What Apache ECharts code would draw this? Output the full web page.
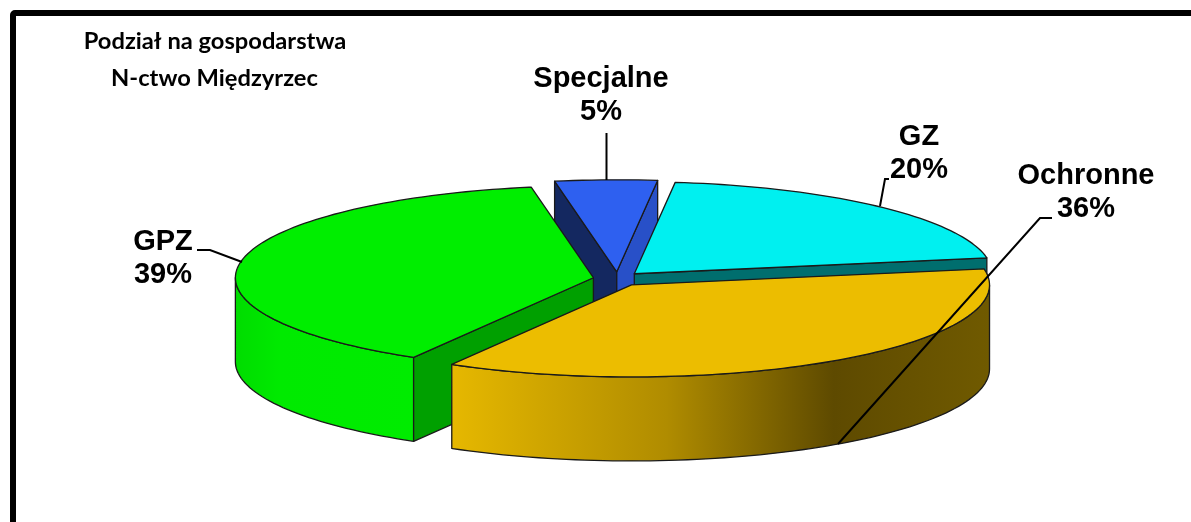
<!DOCTYPE html>
<html>
<head>
<meta charset="utf-8">
<style>html,body{margin:0;padding:0;background:#fff}#chart{width:1191px;height:522px}</style>
<script src="https://cdn.jsdelivr.net/npm/echarts@6/dist/echarts.min.js"></script>
</head>
<body>
<div id="chart"></div>
<script>
// pie order, clockwise from the first slice. shares are read off the slice
// angles, the labels show them rounded
var categories = ['Specjalne', 'GZ', 'Ochronne', 'GPZ'];
var shares = [4.6, 20.4, 36.15, 38.85];
var titleLines = ['Podział na gospodarstwa', 'N-ctwo Międzyrzec'];

// back slices first so the front ones cover them
var drawOrder = ['Specjalne', 'GPZ', 'GZ', 'Ochronne'];

var colors = {
  Specjalne: {top: '#2E60F0', left: '#142860', right: '#2850C8'},
  GZ: {top: '#00F0F0', right: '#006E6E'},
  Ochronne: {top: '#ECBD00'},
  GPZ: {top: '#00EE00', right: '#00A000'}
};

var cx = 617.5, cy = 279, rx = 358, ry = 92, depth = 84;
var explodeX = 24.5, explodeY = 7.2;
var firstAngle = 350;
var edge = '#1a1a1a';

function rad(d) { return d * Math.PI / 180; }

function rows() {
  var start = firstAngle, byName = {};
  categories.forEach(function (name, i) {
    byName[name] = [shares[i], start % 360];
    start += shares[i] * 3.6;
  });
  return drawOrder.map(function (name) {
    return {name: name, value: byName[name]};
  });
}

function wallFill(name) {
  if (name === 'Ochronne') {
    return new echarts.graphic.LinearGradient(0, 0, 1, 0, [
      {offset: 0, color: '#E6B800'},
      {offset: 0.4, color: '#B08C00'},
      {offset: 0.71, color: '#5E4A00'},
      {offset: 1, color: '#705A00'}
    ]);
  }
  return new echarts.graphic.LinearGradient(0, 0, 1, 0, [
    {offset: 0, color: '#00DC00'},
    {offset: 0.25, color: '#00EA00'},
    {offset: 1, color: '#00EC00'}
  ]);
}

function renderSlice(params, api) {
  var name = drawOrder[params.dataIndex];
  var sweep = api.value(0) * 3.6;
  var a0 = api.value(1), a1 = a0 + sweep, mid = rad(a0 + sweep / 2);
  var c = colors[name];
  var ox = cx + explodeX * Math.sin(mid);
  var oy = cy - explodeY * Math.cos(mid);

  function rim(a, dy) {
    return [ox + rx * Math.sin(rad(a)), oy - ry * Math.cos(rad(a)) + (dy || 0)];
  }
  function sample(from, to, dy) {
    var pts = [];
    for (var a = from; a < to; a += 1.5) { pts.push(rim(a, dy)); }
    pts.push(rim(to, dy));
    return pts;
  }
  function poly(points, fill) {
    return {
      type: 'polygon',
      shape: {points: points},
      style: {fill: fill, stroke: edge, lineWidth: 1.3, lineJoin: 'round'}
    };
  }
  function inner(p, fill) {
    return poly([[ox, oy], p, [p[0], p[1] + depth], [ox, oy + depth]], fill);
  }

  var children = [];
  // only the part of the outer wall that faces the viewer
  var w0 = Math.max(a0, 90), w1 = Math.min(a1, 270);
  if (w1 > w0) {
    children.push(poly(sample(w0, w1).concat(sample(w0, w1, depth).reverse()), wallFill(name)));
  }
  if (c.left) { children.push(inner(rim(a0), c.left)); }
  if (c.right) { children.push(inner(name === 'GPZ' ? rim(a0) : rim(a1), c.right)); }
  children.push(poly([[ox, oy]].concat(sample(a0, a1)), c.top));
  return {type: 'group', children: children};
}

var labelPos = {
  Specjalne: [601, 95],
  GZ: [919, 153],
  Ochronne: [1086, 192],
  GPZ: [163, 258]
};
var leaders = [
  [[606.5, 133], [606.5, 180]],
  [[880, 206], [885, 179], [889, 179]],
  [[838, 444], [1040, 218], [1052, 218]],
  [[197, 250], [210, 250], [242, 262]]
];

var graphics = [{
  type: 'rect',
  z: 50,
  shape: {x: 13, y: 13, width: 1300, height: 700, r: 2},
  style: {fill: 'none', stroke: '#000', lineWidth: 6}
}];
titleLines.forEach(function (line, i) {
  graphics.push({
    type: 'text',
    z: 60,
    x: i === 0 ? 215 : 214.5,
    y: i === 0 ? 41 : 78,
    style: {
      text: line, fill: '#000', align: 'center', verticalAlign: 'middle',
      font: 'bold 23.7px Lato'
    }
  });
});
leaders.forEach(function (pts) {
  graphics.push({
    type: 'polyline',
    z: 60,
    shape: {points: pts},
    style: {fill: 'none', stroke: '#000', lineWidth: 2}
  });
});
categories.forEach(function (name, i) {
  graphics.push({
    type: 'text',
    z: 60,
    x: labelPos[name][0],
    y: labelPos[name][1],
    style: {
      text: name + '\n' + Math.round(shares[i]) + '%',
      fill: '#000', align: 'center', verticalAlign: 'middle',
      font: 'bold 29px "Liberation Sans"', lineHeight: 33
    }
  });
});

var chart = echarts.init(document.getElementById('chart'));
chart.setOption({
  animation: false,
  backgroundColor: '#fff',
  graphic: graphics,
  series: [{
    type: 'custom',
    coordinateSystem: 'none',
    silent: true,
    renderItem: renderSlice,
    data: rows()
  }]
});
</script>
</body>
</html>
